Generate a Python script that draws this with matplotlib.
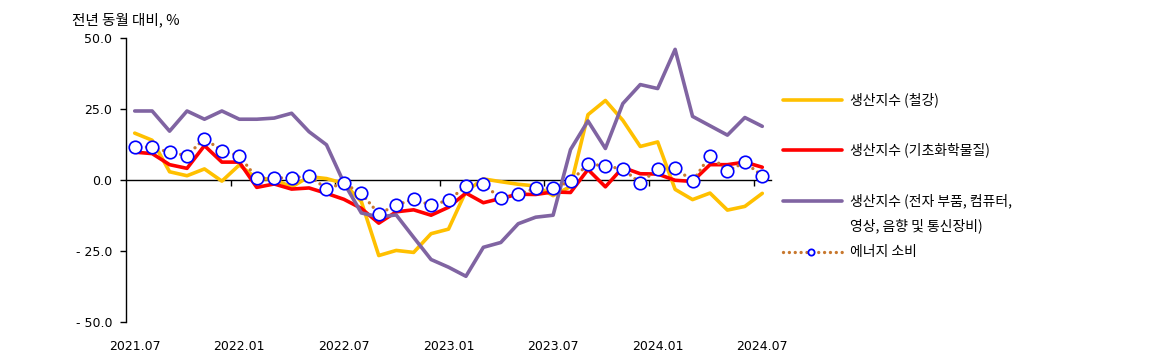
import numpy as np
import matplotlib
matplotlib.use("Agg")
import matplotlib.pyplot as plt
from matplotlib.lines import Line2D

plt.rcParams['font.family'] = ['Noto Sans CJK KR', 'DejaVu Sans']

# ---- dados (전년 동월 대비, %) ----
months = ['2021.07', '2021.08', '2021.09', '2021.10', '2021.11', '2021.12',
          '2022.01', '2022.02', '2022.03', '2022.04', '2022.05', '2022.06',
          '2022.07', '2022.08', '2022.09', '2022.10', '2022.11', '2022.12',
          '2023.01', '2023.02', '2023.03', '2023.04', '2023.05', '2023.06',
          '2023.07', '2023.08', '2023.09', '2023.10', '2023.11', '2023.12',
          '2024.01', '2024.02', '2024.03', '2024.04', '2024.05', '2024.06',
          '2024.07']

steel = [16.5, 14.0, 2.9, 1.5, 3.9, -0.4, 5.3, 0.5, 0.3, -2.5, 1.2, 0.5,
         -1.2, -7.6, -26.6, -24.8, -25.5, -18.9, -17.3, -4.0, 0.4, -0.6,
         -1.5, -2.1, -5.5, -2.3, 23.0, 28.0, 21.0, 11.8, 13.4, -3.3, -6.9,
         -4.6, -10.6, -9.3, -4.7]

chem = [9.8, 9.3, 5.4, 4.1, 12.1, 6.3, 6.3, -2.6, -1.4, -3.2, -2.8, -4.7,
        -6.8, -10.0, -15.2, -11.2, -10.5, -12.4, -9.6, -4.6, -8.0, -6.5,
        -5.0, -5.1, -4.2, -4.4, 3.7, -2.4, 4.4, 2.2, 2.1, -0.1, -0.5, 5.4,
        5.4, 6.3, 4.5]

elec = [24.3, 24.3, 17.2, 24.3, 21.4, 24.3, 21.4, 21.4, 21.8, 23.5, 17.0,
        12.4, -1.0, -11.6, -13.0, -12.3, -20.2, -28.0, -30.7, -33.9, -23.7,
        -22.0, -15.4, -13.1, -12.4, 10.7, 20.8, 11.1, 26.9, 33.6, 32.2, 46.0,
        22.4, 19.1, 15.8, 22.0, 18.9]

energy = [11.6, 11.6, 9.7, 8.6, 14.6, 10.3, 8.5, 0.7, 0.7, 0.8, 1.4, -3.0,
          -1.2, -4.7, -11.9, -8.9, -6.7, -8.9, -7.1, -2.2, -1.5, -6.5, -5.1,
          -2.9, -2.9, -0.5, 5.6, 5.0, 3.8, -1.0, 3.8, 4.4, -0.5, 8.6, 3.2,
          6.2, 1.5]

labels = ['생산지수 (철강)', '생산지수 (기초화학물질)',
          '생산지수 (전자 부품, 컴퓨터,\n영상, 음향 및 통신장비)', '에너지 소비']
yticks = [-50, -25, 0, 25, 50]
ytick_labels = ['- 50.0', '- 25.0', '0.0', '25.0', '50.0']

x = np.arange(len(months))

# estilos
st_steel = dict(color='#FFC000', lw=2.6, solid_capstyle='round')
st_chem = dict(color='#FF0000', lw=2.6, solid_capstyle='round')
st_elec = dict(color='#8064A2', lw=2.6, solid_capstyle='round')
st_energy = dict(color='#C8782E', lw=2.4, linestyle=(0, (0.01, 1.75)),
                 dash_capstyle='round')
mk_energy = dict(marker='o', markersize=9, markerfacecolor='white',
                 markeredgecolor='#0000FF', markeredgewidth=1.2)

fig = plt.figure(figsize=(11.56, 3.63), dpi=100)
ax = fig.add_axes([126/1156, 1-322/363, 645/1156, 284/363])

ax.plot(x, steel, **st_steel)
ax.plot(x, chem, **st_chem)
ax.plot(x, elec, **st_elec)
ax.plot(x, energy, **st_energy, **mk_energy)

ax.set_xlim(-0.5, len(months) - 0.5)
ax.set_ylim(-50, 50)

# eixo y
for s in ['top', 'right', 'bottom']:
    ax.spines[s].set_visible(False)
ax.spines['left'].set_linewidth(1.0)
ax.set_yticks(yticks)
ax.set_yticklabels(ytick_labels)
ax.tick_params(axis='y', direction='out', length=4, width=1, pad=6,
               labelsize=9)

# rótulos do eixo x embaixo
ax.set_xticks(x[::6])
ax.set_xticklabels(months[::6])
ax.tick_params(axis='x', length=0, pad=13, labelsize=9)
for t in ax.get_xticklabels() + ax.get_yticklabels():
    t.set_family('DejaVu Sans')

# linha do zero com marcas entre categorias
sec = ax.secondary_xaxis(0.5)
sec.set_xticks(x[6::6] - 0.5)
sec.tick_params(axis='x', direction='in', length=4, width=1,
                labeltop=False, labelbottom=False)
for s in sec.spines.values():
    s.set_linewidth(1.0)

# título do eixo
fig.text(72/1156, 1-20/363, '전년 동월 대비, %', fontsize=10.5,
         va='center', ha='left')

# legenda manual
leg_y = [100, 150, 201, 252]
styles = [st_steel, st_chem, st_elec, st_energy]
for yy, st, lab in zip(leg_y, styles, labels):
    yf = 1 - yy/363
    fig.add_artist(Line2D([783/1156, 842/1156], [yf, yf], **st,
                          transform=fig.transFigure))
    fig.text(850/1156, yf, lab.split('\n')[0], fontsize=10,
             va='center', ha='left')
    if '\n' in lab:
        fig.text(850/1156, 1-226/363, lab.split('\n')[1], fontsize=10,
                 va='center', ha='left')
fig.add_artist(Line2D([811/1156], [1-252/363], linestyle='none',
                      marker='o', markersize=4.5, markerfacecolor='white',
                      markeredgecolor='#0000FF', markeredgewidth=1.3,
                      transform=fig.transFigure))

fig.savefig('out.png', dpi=100)
